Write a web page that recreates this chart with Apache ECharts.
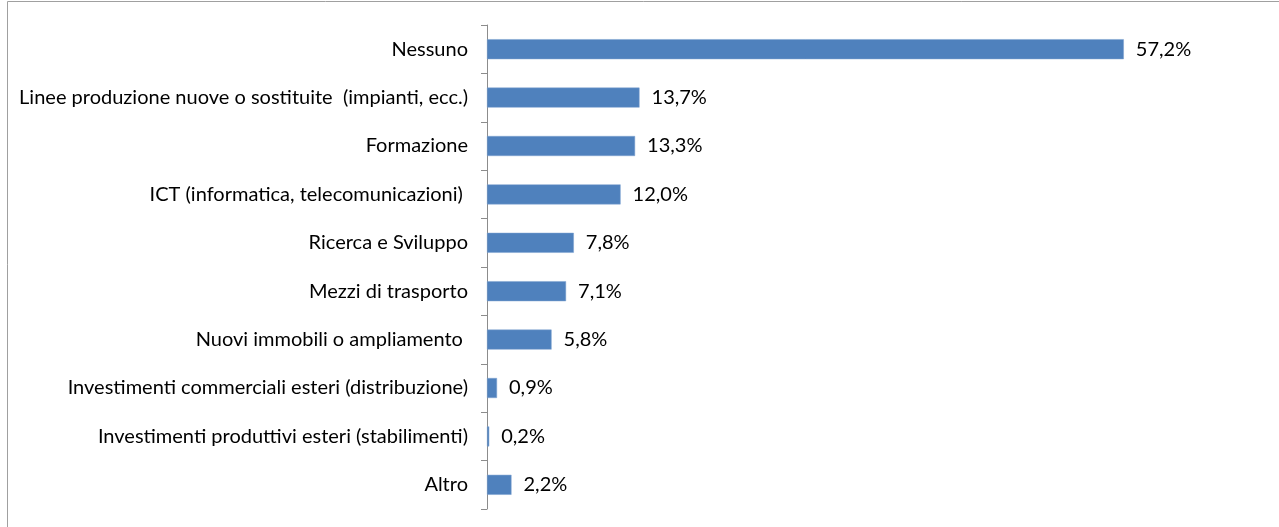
<!DOCTYPE html>
<html><head><meta charset="utf-8">
<script src="https://cdn.jsdelivr.net/npm/echarts@6/dist/echarts.min.js"></script>
<style>html,body{margin:0;padding:0;background:#fff}#c{width:1279px;height:527px}</style>
</head><body><div id="c"></div>
<script>
const categories = [
  "Nessuno",
  "Linee produzione nuove o sostituite  (impianti, ecc.)",
  "Formazione",
  "ICT (informatica, telecomunicazioni) ",
  "Ricerca e Sviluppo",
  "Mezzi di trasporto",
  "Nuovi immobili o ampliamento ",
  "Investimenti commerciali esteri (distribuzione)",
  "Investimenti produttivi esteri (stabilimenti)",
  "Altro"
];
const values = [57.2, 13.7, 13.3, 12.0, 7.8, 7.1, 5.8, 0.9, 0.2, 2.2];

const chart = echarts.init(document.getElementById('c'), null, {renderer: 'canvas'});
const FONT = 'Lato';
chart.setOption({
  animation: false,
  graphic: [
    {type: 'line', shape: {x1: 7.5, y1: 1.5, x2: 7.5, y2: 527}, style: {stroke: '#a0a0a0', lineWidth: 1}},
    {type: 'line', shape: {x1: 7.5, y1: 1.5, x2: 1279, y2: 1.5}, style: {stroke: '#a0a0a0', lineWidth: 1}}
  ],
  grid: {left: 487, top: 25, bottom: 18, right: 124, containLabel: false},
  xAxis: {
    type: 'value', min: 0, max: 60, show: false
  },
  yAxis: {
    type: 'category', data: categories, inverse: true,
    axisLine: {show: true, lineStyle: {color: '#8c8c8c', width: 1}},
    axisTick: {show: true, length: 6, lineStyle: {color: '#8c8c8c'}},
    axisLabel: {color: '#000', fontFamily: FONT, fontSize: 20, margin: 19}
  },
  series: [{
    type: 'bar', data: values, barWidth: 20,
    itemStyle: {color: '#4F81BD', borderColor: '#7fa3d0', borderWidth: 0.5},
    label: {
      show: true, position: 'right', distance: 12,
      color: '#000', fontFamily: FONT, fontSize: 20,
      formatter: p => p.value.toFixed(1).replace('.', ',') + '%'
    }
  }]
});
</script></body></html>
